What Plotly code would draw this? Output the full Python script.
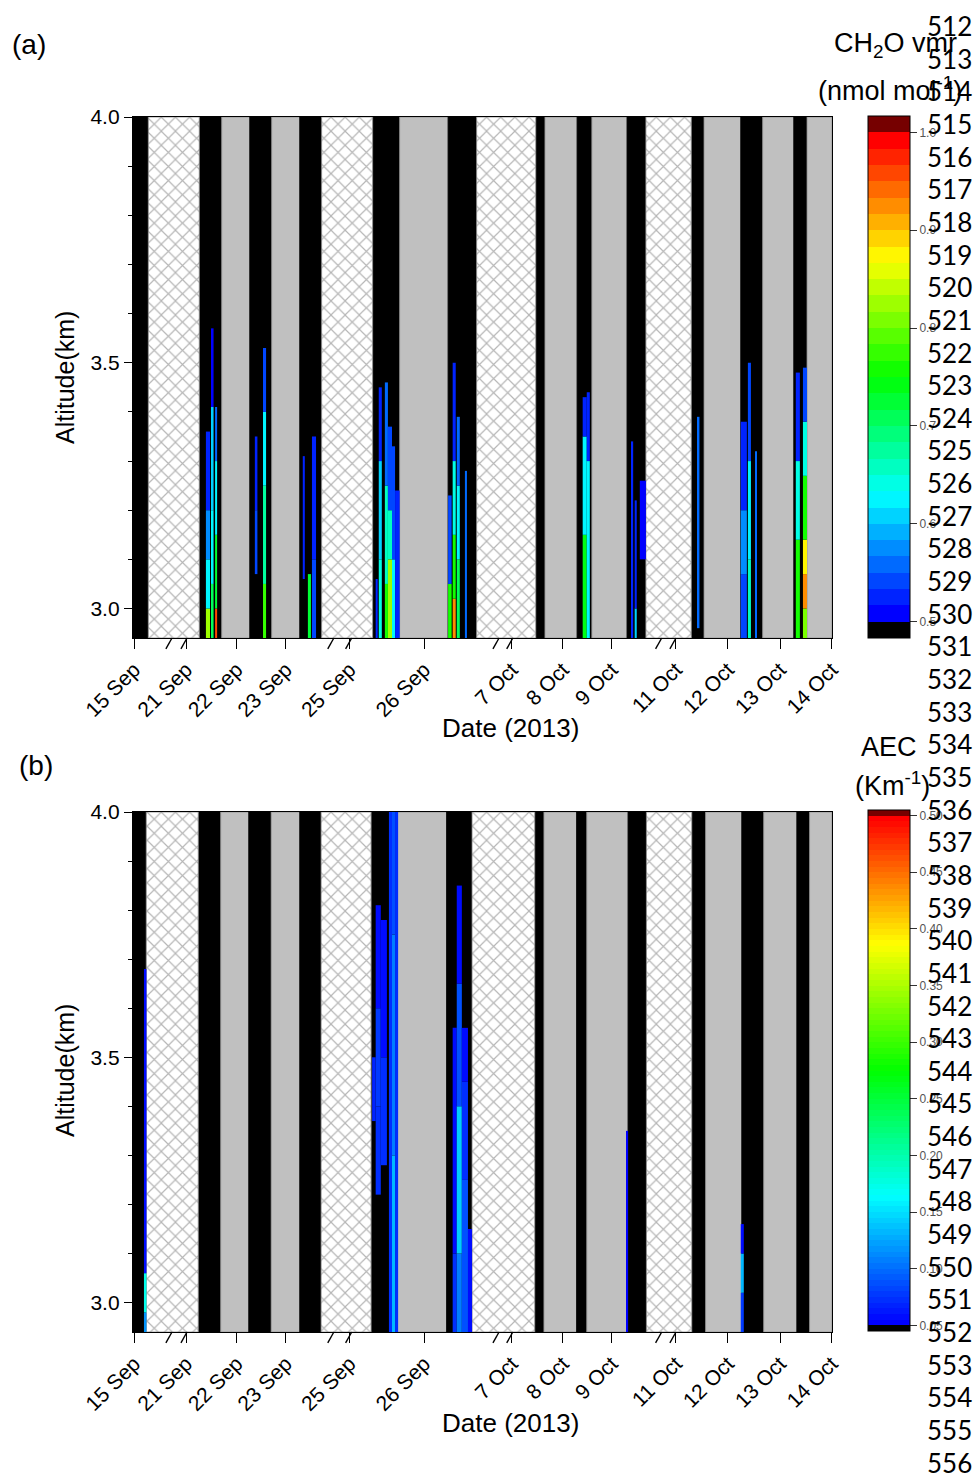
import plotly.graph_objects as go

FIG_W, FIG_H = 975, 1483
FONT = "Liberation Sans, Arial, sans-serif"

# ---------------------------------------------------------------------------
# Compressed (broken) date axis, in display-day units
# ---------------------------------------------------------------------------
DATE_TICKS = [0.04, 1.06, 2.05, 3.02, 4.27, 5.73, 7.45, 8.45, 9.41, 10.67, 11.69, 12.71, 13.725]
DATE_LABELS = ["15 Sep", "21 Sep", "22 Sep", "23 Sep", "25 Sep", "26 Sep",
               "7 Oct", "8 Oct", "9 Oct", "11 Oct", "12 Oct", "13 Oct", "14 Oct"]
AXIS_BREAKS = [(0.725, 1.02), (3.90, 4.25), (7.14, 7.41), (10.33, 10.61)]
X_RANGE = [0.02, 13.73]

ALT_MIN, ALT_MAX = 2.94, 4.0
ALT_TICKS = [3.0, 3.5, 4.0]
ALT_LABELS = ["3.0", "3.5", "4.0"]

# ---------------------------------------------------------------------------
# Observation periods: day = measured, night = no retrieval, gap = no data
# ---------------------------------------------------------------------------
CH2O_EDGES = [0.00, 0.32, 1.32, 1.76, 2.31, 2.74, 3.29, 3.72, 4.72, 5.25, 6.20, 6.76,
              7.92, 8.10, 8.73, 9.02, 9.71, 10.08, 10.97, 11.22, 11.94, 12.37, 12.98,
              13.24, 13.73]
CH2O_KINDS = ["day", "gap", "day", "night", "day", "night", "day", "gap", "day", "night",
              "day", "gap", "day", "night", "day", "night", "day", "gap", "day", "night",
              "day", "night", "day", "night"]

AEC_EDGES = [0.00, 0.28, 1.30, 1.74, 2.29, 2.73, 3.29, 3.71, 4.69, 5.18, 6.17, 6.67,
             7.90, 8.08, 8.72, 8.92, 9.73, 10.09, 10.98, 11.25, 11.96, 12.39, 13.04,
             13.29, 13.73]
AEC_KINDS = CH2O_KINDS

# ---------------------------------------------------------------------------
# Vertical profiles above the colour-scale minimum
# (left, right, altitude layer edges in km, value in each layer)
# ---------------------------------------------------------------------------
CH2O_STREAKS = [
    (1.45, 1.53, [2.94, 3.00, 3.10, 3.20, 3.36], [0.82, 0.63, 0.57, 0.53]),
    (1.55, 1.60, [2.94, 3.05, 3.20, 3.41, 3.57], [0.70, 0.62, 0.60, 0.51]),
    (1.63, 1.67, [2.94, 3.00, 3.15, 3.30, 3.41], [0.95, 0.72, 0.63, 0.56]),
    (2.41, 2.46, [3.07, 3.20, 3.35], [0.54, 0.52]),
    (2.57, 2.63, [2.94, 3.05, 3.25, 3.40, 3.53], [0.78, 0.68, 0.62, 0.54]),
    (3.35, 3.39, [3.06, 3.31], [0.53]),
    (3.45, 3.51, [2.94, 3.07], [0.72]),
    (3.53, 3.61, [2.94, 3.10, 3.35], [0.54, 0.52]),
    (4.78, 4.82, [2.94, 3.06], [0.53]),
    (4.84, 4.90, [2.94, 3.10, 3.30, 3.45], [0.64, 0.61, 0.53]),
    (4.96, 5.02, [2.94, 3.05, 3.25, 3.46], [0.76, 0.65, 0.56]),
    (5.02, 5.10, [2.94, 3.10, 3.20, 3.37], [0.82, 0.66, 0.54]),
    (5.10, 5.16, [2.94, 3.10, 3.33], [0.62, 0.54]),
    (5.16, 5.25, [2.94, 3.24], [0.52]),
    (6.20, 6.27, [2.94, 3.05, 3.23], [0.76, 0.54]),
    (6.29, 6.35, [2.94, 3.02, 3.15, 3.30, 3.50], [0.92, 0.76, 0.64, 0.53]),
    (6.37, 6.43, [2.94, 3.10, 3.25, 3.39], [0.70, 0.63, 0.56]),
    (6.53, 6.57, [2.94, 3.28], [0.56]),
    (8.84, 8.92, [2.94, 3.15, 3.35, 3.43], [0.74, 0.62, 0.53]),
    (8.92, 8.98, [2.94, 3.30, 3.44], [0.62, 0.53]),
    (9.80, 9.83, [2.94, 3.34], [0.53]),
    (9.86, 9.90, [2.94, 3.00, 3.22], [0.60, 0.53]),
    (9.96, 10.08, [3.10, 3.26], [0.51]),
    (11.10, 11.13, [2.96, 3.39], [0.55]),
    (11.94, 12.06, [2.94, 3.07, 3.20, 3.38], [0.54, 0.58, 0.52]),
    (12.08, 12.14, [2.94, 3.10, 3.30, 3.50], [0.66, 0.62, 0.54]),
    (12.22, 12.25, [2.94, 3.32], [0.56]),
    (13.02, 13.10, [2.94, 3.14, 3.30, 3.48], [0.76, 0.64, 0.53]),
    (13.16, 13.24, [2.94, 3.00, 3.07, 3.14, 3.27, 3.38, 3.49], [0.80, 0.93, 0.87, 0.75, 0.64, 0.54]),
]

AEC_STREAKS = [
    (0.235, 0.284, [2.94, 2.98, 3.06, 3.68], [0.12, 0.17, 0.06]),
    (4.71, 4.78, [3.37, 3.50], [0.065]),
    (4.78, 4.88, [3.22, 3.40, 3.60, 3.81], [0.075, 0.08, 0.06]),
    (4.88, 5.00, [3.28, 3.50, 3.78], [0.07, 0.06]),
    (5.04, 5.10, [2.94, 4.00], [0.075]),
    (5.10, 5.16, [2.94, 3.30, 3.75, 4.00], [0.13, 0.11, 0.085]),
    (5.16, 5.22, [2.94, 4.00], [0.075]),
    (6.29, 6.37, [2.94, 3.10, 3.56], [0.075, 0.06]),
    (6.37, 6.47, [2.94, 3.10, 3.40, 3.65, 3.85], [0.11, 0.14, 0.09, 0.06]),
    (6.47, 6.59, [2.94, 3.25, 3.45, 3.56], [0.09, 0.075, 0.06]),
    (6.59, 6.67, [2.94, 3.15], [0.06]),
    (9.70, 9.73, [2.94, 3.35], [0.055]),
    (11.94, 12.00, [2.94, 3.02, 3.10, 3.16], [0.08, 0.13, 0.06]),
]

CH2O_CBAR_TICKS = [0.5, 0.6, 0.7, 0.8, 0.9, 1.0]
CH2O_CBAR_LABELS = ["0.5", "0.6", "0.7", "0.8", "0.9", "1.0"]
AEC_CBAR_TICKS = [0.05, 0.10, 0.15, 0.20, 0.25, 0.30, 0.35, 0.40, 0.45, 0.50]
AEC_CBAR_LABELS = ["0.05", "0.10", "0.15", "0.20", "0.25", "0.30", "0.35", "0.40", "0.45", "0.50"]

LINE_NUMBERS = list(range(512, 557))

# ---------------------------------------------------------------------------
# Colour scales: rainbow bands with a black underflow and dark-red overflow band
# ---------------------------------------------------------------------------
RAINBOW = [(0.0, (0, 0, 255)), (0.25, (0, 255, 255)), (0.5, (0, 255, 0)),
           (0.75, (255, 255, 0)), (1.0, (255, 0, 0))]


def rainbow(t):
    for (t0, c0), (t1, c1) in zip(RAINBOW, RAINBOW[1:]):
        if t <= t1:
            f = (t - t0) / (t1 - t0)
            return "rgb(%d,%d,%d)" % tuple(round(a + (b - a) * f) for a, b in zip(c0, c1))
    return "rgb(255,0,0)"


def banded_scale(n_inner):
    colors = (["rgb(0,0,0)"] + [rainbow(k / (n_inner - 1)) for k in range(n_inner)]
              + ["rgb(118,0,0)"])
    n = len(colors)
    scale = []
    for i, c in enumerate(colors):
        scale.append([i / n, c])
        scale.append([(i + 1) / n, c])
    return scale


PANELS = [
    dict(edges=CH2O_EDGES, kinds=CH2O_KINDS, streaks=CH2O_STREAKS,
         step=1 / 60, lo=0.5, hi=1.0, n_inner=30,
         cticks=CH2O_CBAR_TICKS, clabels=CH2O_CBAR_LABELS,
         top_px=117, bottom_px=638, cbar_top=116, xa="x", ya="y"),
    dict(edges=AEC_EDGES, kinds=AEC_KINDS, streaks=AEC_STREAKS,
         step=0.005, lo=0.05, hi=0.50, n_inner=90,
         cticks=AEC_CBAR_TICKS, clabels=AEC_CBAR_LABELS,
         top_px=812, bottom_px=1332, cbar_top=810, xa="x2", ya="y2"),
]

BLOCK_COLORS = {"day": "black", "night": "#c0c0c0"}

fig = go.Figure()

for p in PANELS:
    edges, kinds = p["edges"], p["kinds"]
    starts = edges[:-1]
    widths = [b - a for a, b in zip(edges[:-1], edges[1:])]

    # solid day / night columns
    idx = [i for i, k in enumerate(kinds) if k != "gap"]
    fig.add_trace(go.Bar(
        x=[starts[i] for i in idx], width=[widths[i] for i in idx],
        y=[ALT_MAX - ALT_MIN] * len(idx), base=[ALT_MIN] * len(idx), offset=0,
        marker=dict(color=[BLOCK_COLORS[kinds[i]] for i in idx],
                    line=dict(color=["black" if kinds[i] == "day" else "#8f8f8f" for i in idx],
                              width=0.8)),
        xaxis=p["xa"], yaxis=p["ya"], hoverinfo="skip", showlegend=False))

    # cross-hatched missing-data columns
    idx = [i for i, k in enumerate(kinds) if k == "gap"]
    fig.add_trace(go.Bar(
        x=[starts[i] for i in idx], width=[widths[i] for i in idx],
        y=[ALT_MAX - ALT_MIN] * len(idx), base=[ALT_MIN] * len(idx), offset=0,
        marker=dict(color="white",
                    pattern=dict(shape="x", fgcolor="#6e6e6e", bgcolor="white",
                                 size=10, solidity=0.22, fillmode="overlay"),
                    line=dict(color="#8a8a8a", width=0.8)),
        xaxis=p["xa"], yaxis=p["ya"], hoverinfo="skip", showlegend=False))

    # retrieved profiles
    sx, sw, sb, sh, sv = [], [], [], [], []
    for left, right, alts, vals in p["streaks"]:
        for a0, a1, v in zip(alts[:-1], alts[1:], vals):
            sx.append(left)
            sw.append(right - left)
            sb.append(a0)
            sh.append(a1 - a0)
            sv.append(v)
    cb_len = p["bottom_px"] - p["top_px"] + 1
    fig.add_trace(go.Bar(
        x=sx, width=sw, y=sh, base=sb, offset=0,
        marker=dict(color=sv, colorscale=banded_scale(p["n_inner"]),
                    cmin=p["lo"] - p["step"], cmax=p["hi"] + p["step"],
                    line=dict(width=0),
                    colorbar=dict(x=868 / FIG_W, xanchor="left", xpad=0,
                                  y=1 - p["cbar_top"] / FIG_H, yanchor="top", ypad=0,
                                  len=cb_len, lenmode="pixels",
                                  thickness=42, thicknessmode="pixels",
                                  outlinewidth=1, outlinecolor="black",
                                  tickmode="array", tickvals=p["cticks"], ticktext=p["clabels"],
                                  ticks="outside", ticklen=7, tickcolor="#333",
                                  tickfont=dict(family=FONT, size=12, color="#555"))),
        xaxis=p["xa"], yaxis=p["ya"], hoverinfo="skip", showlegend=False))

# ---------------------------------------------------------------------------
# Axes
# ---------------------------------------------------------------------------
x_common = dict(
    domain=[133 / FIG_W, 832 / FIG_W], range=X_RANGE, tickmode="array",
    tickvals=DATE_TICKS, ticktext=DATE_LABELS, tickangle=-45,
    ticks="outside", ticklen=10, tickwidth=1.3, tickcolor="black",
    showline=True, linecolor="black", linewidth=1.3, mirror=True,
    showgrid=False, zeroline=False, automargin=False,
    tickfont=dict(family=FONT, size=21, color="black"))
y_common = dict(
    range=[ALT_MIN, ALT_MAX], tickmode="array", tickvals=ALT_TICKS, ticktext=ALT_LABELS,
    ticks="outside", ticklen=8, tickwidth=1.3, tickcolor="black",
    minor=dict(tickmode="linear", tick0=2.9, dtick=0.1, ticks="outside",
               ticklen=4, tickwidth=1, tickcolor="black"),
    showline=True, linecolor="black", linewidth=1.3, mirror=True,
    showgrid=False, zeroline=False, automargin=False,
    tickfont=dict(family=FONT, size=21, color="black"))

layout_axes = {}
for p in PANELS:
    xkey = "xaxis" if p["xa"] == "x" else "xaxis2"
    ykey = "yaxis" if p["ya"] == "y" else "yaxis2"
    layout_axes[xkey] = dict(x_common, anchor=p["ya"])
    layout_axes[ykey] = dict(y_common, anchor=p["xa"],
                             domain=[1 - p["bottom_px"] / FIG_H, 1 - p["top_px"] / FIG_H])

# broken-axis marks on the date axis
shapes = []
for p in PANELS:
    for pair in AXIS_BREAKS:
        for c in pair:
            shapes.append(dict(type="line", xref=p["xa"], yref=p["ya"] + " domain",
                               x0=c - 0.06, y0=-0.021, x1=c + 0.06, y1=0.0,
                               line=dict(color="black", width=1.4)))

# ---------------------------------------------------------------------------
# Text
# ---------------------------------------------------------------------------
def px_to_paper(x, y):
    return x / FIG_W, 1 - y / FIG_H


annotations = []


def add_text(text, x, y, size, xanchor="center", angle=0, family=FONT):
    px, py = px_to_paper(x, y)
    annotations.append(dict(text=text, x=px, y=py, xref="paper", yref="paper",
                            xanchor=xanchor, yanchor="middle", showarrow=False,
                            textangle=angle, font=dict(family=family, size=size, color="black")))


add_text("(a)", 29, 45, 28)
add_text("(b)", 36, 765, 28)
add_text("Altitude(km)", 65, 378, 25, angle=-90)
add_text("Altitude(km)", 65, 1071, 25, angle=-90)
add_text("Date (2013)", 510, 728, 26)
add_text("Date (2013)", 510, 1423, 26)
add_text("CH<sub>2</sub>O vmr", 895, 45, 27)
add_text("(nmol mol<sup>-1</sup>)", 890, 89, 27)
add_text("AEC", 889, 747, 27)
add_text("(Km<sup>-1</sup>)", 892, 784, 27)

for k, n in enumerate(LINE_NUMBERS):
    add_text(str(n), 925, 26 + 32.65 * k, 26, xanchor="left", family="Lato, Carlito, sans-serif")

fig.update_layout(
    width=FIG_W, height=FIG_H, margin=dict(l=0, r=0, t=0, b=0),
    paper_bgcolor="white", plot_bgcolor="white",
    barmode="overlay", showlegend=False,
    font=dict(family=FONT, color="black"),
    shapes=shapes, annotations=annotations,
    **layout_axes)

fig.write_html("out.html")
